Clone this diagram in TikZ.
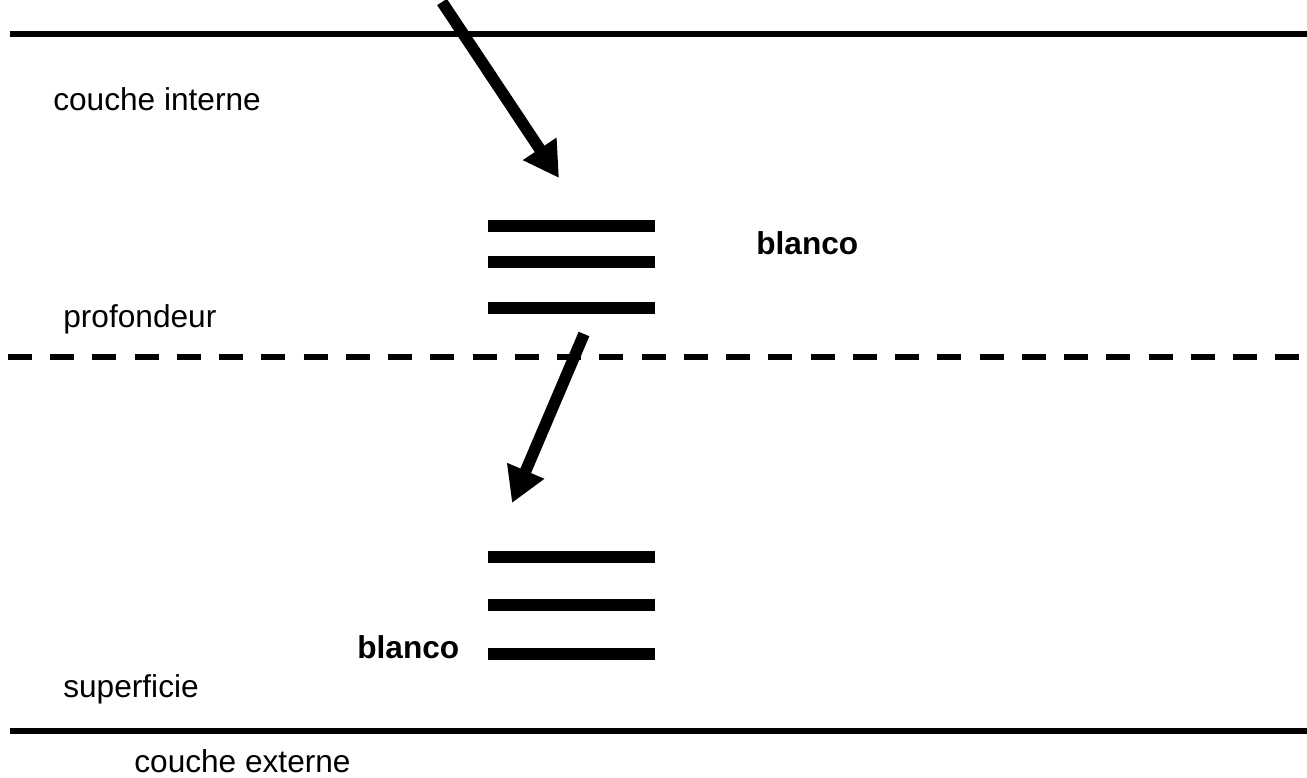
\documentclass[tikz,border=0pt]{standalone}
\usepackage{fontspec}
\setmainfont{Liberation Sans}
\usepackage{tikz}
\usetikzlibrary{arrows.meta}
\tikzset{txt/.style={anchor=west,inner sep=0pt,font=\fontsize{18}{21}\selectfont},
  btxt/.style={txt,font=\fontsize{18}{21}\selectfont\bfseries},
  layer/.style={line width=3.1pt},
  bar/.style={line width=6.8pt},
  move/.style={line width=6.6pt,-{Triangle[length=0.70cm,width=0.76cm]}}}

\begin{document}
\begin{tikzpicture}[x=0.02cm,y=-0.02cm]
    \useasboundingbox (0,0) rectangle (1307,777);

    \draw [layer] (10,34) -- (1307,34);
    \draw [layer] (10,731) -- (1307,731);
    \draw [line width=3.4pt,dash pattern=on 0.48cm off 0.365cm] (8,357) -- (1307,357);

    \draw [bar] (488,226) -- (655,226);
    \draw [bar] (488,262) -- (655,262);
    \draw [bar] (488,308) -- (655,308);
    \draw [bar] (488,557) -- (655,557);
    \draw [bar] (488,605) -- (655,605);
    \draw [bar] (488,654) -- (655,654);

    \node[txt] (interne) at (53,99) {couche interne};
    \node[txt] (prof) at (63,319) {profondeur};
    \node[txt] (surf) at (63,689) {superficie};
    \node[txt] (externe) at (134,761) {couche externe};
    \node[btxt] (blanchaut) at (756,243) {blanco};
    \node[btxt] (blancbas) at (357,647) {blanco};

    \coordinate (a) at (442,2);
    \coordinate (b) at (559,178);
    \coordinate (c) at (584,334);
    \coordinate (d) at (512,503);
    \draw [move] (a) -- (b);
    \draw [move] (c) -- (d);
\end{tikzpicture}
\end{document}
